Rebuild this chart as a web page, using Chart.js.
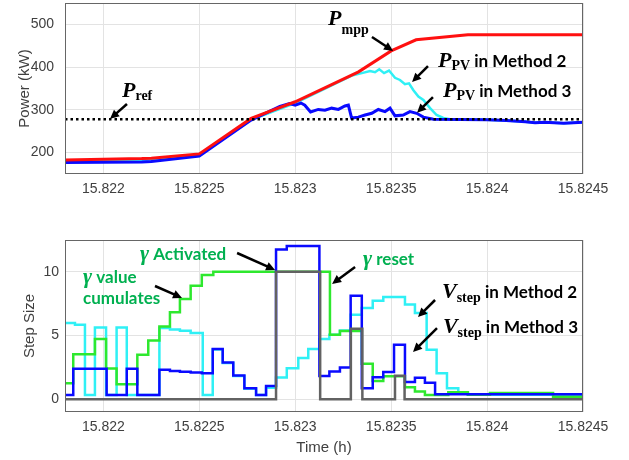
<!DOCTYPE html>
<html>
<head>
<meta charset="utf-8">
<script src="https://cdn.jsdelivr.net/npm/chart.js@4.4.0/dist/chart.umd.min.js"></script>
<style>
  body { margin: 0; background: #fff; }
  .box { position: absolute; left: 0; width: 629px; height: 230px; }
</style>
</head>
<body>
<div class="box" style="top:0"><canvas id="powerChart"></canvas></div>
<div class="box" style="top:230px"><canvas id="stepChart"></canvas></div>
<script>
// time axis (h)
const X_MIN = 15.8218, X_MAX = 15.8245;
const timeTicks = [15.822, 15.8225, 15.823, 15.8235, 15.824, 15.8245];
const timeTickLabels = ["15.822", "15.8225", "15.823", "15.8235", "15.824", "15.8245"];
const powerTicks = [200, 300, 400, 500];
const stepTicks = [0, 5, 10];

// top plot: power (kW)
const pmppT = [15.8218, 15.8222, 15.82225, 15.8225, 15.82277, 15.823, 15.82333, 15.8235, 15.82363, 15.8239, 15.8245];
const pmppV = [183, 186, 187, 197, 280, 319, 389, 438, 464, 476, 476];

const pv2T = [15.8218, 15.8222, 15.82225, 15.8225, 15.82277, 15.823, 15.8233, 15.823347, 15.82339, 15.823416, 15.823438,
  15.823463, 15.823489, 15.82352, 15.823546, 15.823572, 15.823593, 15.823616, 15.823642, 15.823668, 15.823703,
  15.823737, 15.823772, 15.823807, 15.824, 15.8241, 15.8242, 15.82425, 15.8243, 15.8244, 15.8245];
const pv2V = [180, 183, 184, 194, 277, 316, 381, 386, 391, 388, 395,
  386, 392, 375, 370, 360, 362, 346, 331, 323, 304,
  288, 281, 278, 277, 275, 272, 270, 271, 269, 271];

const pv3T = [15.8218, 15.8222, 15.82225, 15.8225, 15.82277, 15.82292, 15.82297, 15.823, 15.82303, 15.82305, 15.82308,
  15.82312, 15.823155, 15.82319, 15.823225, 15.823259, 15.823277, 15.823294, 15.823329, 15.823364, 15.823399,
  15.823433, 15.823468, 15.823494, 15.82352, 15.823563, 15.823598, 15.823633, 15.823668, 15.82372, 15.824,
  15.8241, 15.8242, 15.82425, 15.8243, 15.8244, 15.8245];
const pv3V = [177, 178, 179, 192, 276, 308, 315, 311, 316, 311, 295,
  301, 299, 304, 301, 309, 311, 281, 283, 288, 292,
  301, 296, 304, 286, 288, 296, 292, 283, 278, 277,
  275, 272, 270, 271, 269, 271];

const prefT = [15.8218, 15.8245];
const prefV = [278, 278];

// bottom plot: step sizes, each point = start of a step
const gammaT = [15.8218, 15.821843, 15.821956, 15.822014, 15.822069, 15.822177, 15.822234, 15.822292, 15.822347, 15.822399,
  15.822455, 15.822513, 15.822573, 15.823181, 15.823233, 15.823347, 15.823404, 15.823459, 15.823572, 15.823624,
  15.823676, 15.823798, 15.8239, 15.824015, 15.824344, 15.8245];
const gammaV = [1.26, 3.54, 4.72, 2.41, 1.18, 3.49, 4.62, 5.72, 6.82, 7.87,
  8.9, 9.75, 10, 5.06, 5.36, 2.78, 1.44, 1.8, 0.95, 0.6,
  0.34, 0.55, 0.35, 0.5, 0.2, 0.2];

const vstep2T = [15.8218, 15.821852, 15.821904, 15.821956, 15.822014, 15.822069, 15.822122, 15.822292, 15.822347, 15.822399,
  15.822455, 15.822518, 15.82257, 15.822622, 15.822677, 15.822735, 15.822796, 15.822848, 15.8229, 15.822956,
  15.823016, 15.823068, 15.823126, 15.823178, 15.823233, 15.823289, 15.823347, 15.823404, 15.823459, 15.823572,
  15.823624, 15.823685, 15.823737, 15.823791, 15.82385, 15.8239, 15.8245];
const vstep2V = [5.98, 5.85, 0.34, 5.64, 0.34, 5.64, 0.34, 5.6, 5.48, 5.38,
  5.2, 0.34, 3.9, 2.85, 1.83, 0.83, 0.34, 0.9, 1.7, 2.44,
  3.23, 3.94, 4.72, 5.06, 5.4, 6.64, 7.16, 7.74, 8.03, 7.43,
  6.77, 3.88, 2.05, 0.87, 0.5, 0.35, 0.35];

const vstep3T = [15.8218, 15.821843, 15.822017, 15.822122, 15.822177, 15.822292, 15.822347, 15.822399, 15.822455, 15.822513,
  15.82257, 15.822622, 15.822677, 15.822735, 15.822796, 15.822848, 15.8229, 15.822956, 15.823126, 15.823178,
  15.823233, 15.823289, 15.823347, 15.823404, 15.823459, 15.823515, 15.823572, 15.823624, 15.823676, 15.823729, 15.8245];
const vstep3V = [0.34, 2.39, 0.34, 2.39, 0.34, 2.31, 2.22, 2.16, 2.1, 2.05,
  3.94, 2.88, 1.86, 0.86, 0.34, 1.05, 11.76, 12.02, 1.83, 2.17,
  2.5, 8.13, 0.87, 1.73, 2.13, 4.28, 1.35, 1.68, 1.3, 0.39, 0.35];

const gateT = [15.8218, 15.8229, 15.82313, 15.82329, 15.82335, 15.82352, 15.82357, 15.8245];
const gateV = [0, 10, 0, 5.54, 0, 1.84, 0, 0];

const SANS = '"Liberation Sans", Arial, sans-serif';
const TICK_COLOR = '#404040';
const GRID_COLOR = '#e3e3e3';
const GREEN_TXT = '#00b050';

const pts = (ts, vs) => ts.map((t, i) => ({ x: t, y: vs[i] }));

function drawArrow(ctx, x1, y1, x2, y2) {
  const ang = Math.atan2(y2 - y1, x2 - x1);
  const head = 10;
  ctx.strokeStyle = '#000';
  ctx.fillStyle = '#000';
  ctx.lineWidth = 2.5;
  ctx.beginPath();
  ctx.moveTo(x1, y1);
  ctx.lineTo(x2 - Math.cos(ang) * head * 0.8, y2 - Math.sin(ang) * head * 0.8);
  ctx.stroke();
  ctx.beginPath();
  ctx.moveTo(x2, y2);
  ctx.lineTo(x2 - head * Math.cos(ang - 0.45), y2 - head * Math.sin(ang - 0.45));
  ctx.lineTo(x2 - head * Math.cos(ang + 0.45), y2 - head * Math.sin(ang + 0.45));
  ctx.closePath();
  ctx.fill();
}

// text notes, arrows and the axes box
const notesPlugin = {
  id: 'notes',
  afterDatasetsDraw(chart, args, opts) {
    const { ctx, chartArea, scales: { x, y } } = chart;
    ctx.save();
    ctx.strokeStyle = '#666';
    ctx.lineWidth = 1;
    ctx.strokeRect(chartArea.left + 0.5, chartArea.top + 0.5, chartArea.width - 1, chartArea.height - 1);
    (opts.arrows || []).forEach(a => {
      drawArrow(ctx, x.getPixelForValue(a[0]), y.getPixelForValue(a[1]), x.getPixelForValue(a[2]), y.getPixelForValue(a[3]));
    });
    ctx.textBaseline = 'alphabetic';
    ctx.textAlign = 'left';
    (opts.labels || []).forEach(l => {
      let px = x.getPixelForValue(l.x);
      const py = y.getPixelForValue(l.y);
      l.parts.forEach(p => {
        ctx.font = p.font;
        ctx.fillStyle = p.color || '#000';
        ctx.fillText(p.text, px, py + (p.dy || 0));
        px += ctx.measureText(p.text).width;
      });
    });
    ctx.restore();
  }
};

const P_FONT = 'bold italic 22px "Liberation Serif"';
const SUB_FONT = 'bold 14px "Liberation Serif"';
const TXT_FONT = 'bold 17px Lato';

function xAxis(withTitle) {
  return {
    type: 'linear',
    min: X_MIN,
    max: X_MAX,
    afterBuildTicks: s => { s.ticks = timeTicks.map(v => ({ value: v })); },
    afterFit: s => { s.height = withTitle ? 48 : 56; s.paddingLeft = 0; s.paddingRight = 0; },
    ticks: {
      autoSkip: false, maxRotation: 0, padding: 7, color: TICK_COLOR,
      font: { family: SANS, size: 14 },
      callback: (v, i) => timeTickLabels[i]
    },
    grid: { color: GRID_COLOR, drawTicks: false },
    border: { display: false },
    title: {
      display: withTitle, text: 'Time (h)', color: TICK_COLOR,
      font: { family: SANS, size: 15 }, padding: { top: 0, bottom: 3 }
    }
  };
}

function yAxis(min, max, ticks, title, titlePad, tickPad) {
  return {
    min: min,
    max: max,
    afterBuildTicks: s => { s.ticks = ticks.map(v => ({ value: v })); },
    afterFit: s => { s.width = 65; s.paddingTop = 0; s.paddingBottom = 0; },
    ticks: { padding: tickPad, color: TICK_COLOR, font: { family: SANS, size: 14 } },
    grid: { color: GRID_COLOR, drawTicks: false },
    border: { display: false },
    title: {
      display: true, text: title, color: TICK_COLOR,
      font: { family: SANS, size: 15 }, padding: { top: titlePad, bottom: 0 }
    }
  };
}

function line(data, color, width, extra) {
  return Object.assign({
    data: data, borderColor: color, borderWidth: width,
    pointRadius: 0, fill: false, tension: 0
  }, extra || {});
}

new Chart(document.getElementById('powerChart'), {
  type: 'line',
  data: {
    datasets: [
      line(pts(prefT, prefV), '#000', 2.5, { borderDash: [2.5, 3] }),
      line(pts(pmppT, pmppV), '#ff1010', 3),
      line(pts(pv3T, pv3V), '#0a0aff', 3),
      line(pts(pv2T, pv2V), '#2ff0f5', 2.5)
    ]
  },
  options: {
    animation: false,
    responsive: true,
    maintainAspectRatio: false,
    layout: { padding: { left: 0, right: 46, top: 3, bottom: 0 } },
    scales: { x: xAxis(false), y: yAxis(150, 550, powerTicks, 'Power (kW)', 16, 11) },
    plugins: {
      legend: { display: false },
      tooltip: { enabled: false },
      notes: {
        arrows: [
          [15.822123, 313.7, 15.822035, 279],
          [15.8234, 470.5, 15.82351, 438],
          [15.823692, 402.6, 15.823609, 365],
          [15.823718, 330, 15.823635, 293]
        ],
        labels: [
          { x: 15.822097, y: 330, parts: [{ text: 'P', font: P_FONT }, { text: 'ref', font: SUB_FONT, dy: 3 }] },
          { x: 15.823171, y: 498.5, parts: [{ text: 'P', font: P_FONT }, { text: 'mpp', font: SUB_FONT, dy: 9 }] },
          { x: 15.823744, y: 400.3, parts: [{ text: 'P', font: P_FONT }, { text: 'PV', font: SUB_FONT, dy: 3 }, { text: ' in Method 2', font: TXT_FONT }] },
          { x: 15.82377, y: 330, parts: [{ text: 'P', font: P_FONT }, { text: 'PV', font: SUB_FONT, dy: 3 }, { text: ' in Method 3', font: TXT_FONT }] }
        ]
      }
    }
  },
  plugins: [notesPlugin]
});

const stepped = { stepped: 'before' };

new Chart(document.getElementById('stepChart'), {
  type: 'line',
  data: {
    datasets: [
      line(pts(gateT, gateV), '#626262', 2.5, stepped),
      line(pts(vstep3T, vstep3V), '#0a0aff', 2.5, stepped),
      line(pts(gammaT, gammaV), '#2ee82e', 2.5, stepped),
      line(pts(vstep2T, vstep2V), '#2ff0f5', 2.5, stepped)
    ]
  },
  options: {
    animation: false,
    responsive: true,
    maintainAspectRatio: false,
    layout: { padding: { left: 0, right: 46, top: 10, bottom: 0 } },
    scales: { x: xAxis(true), y: yAxis(-1, 12.5, stepTicks, 'Step Size', 21, 6) },
    plugins: {
      legend: { display: false },
      tooltip: { enabled: false },
      notes: {
        arrows: [
          [15.822697, 11.48, 15.822895, 10.15],
          [15.822269, 8.89, 15.82241, 7.95],
          [15.823312, 10.38, 15.823192, 9.05],
          [15.823729, 7.79, 15.82364, 6.46],
          [15.823739, 5.59, 15.823614, 3.71]
        ],
        labels: [
          { x: 15.822191, y: 10.93, parts: [{ text: 'γ', font: P_FONT, color: GREEN_TXT }, { text: ' Activated', font: TXT_FONT, color: GREEN_TXT }] },
          { x: 15.821894, y: 9.125, parts: [{ text: 'γ', font: P_FONT, color: GREEN_TXT }, { text: ' value', font: TXT_FONT, color: GREEN_TXT }] },
          { x: 15.821894, y: 7.476, parts: [{ text: 'cumulates', font: TXT_FONT, color: GREEN_TXT }] },
          { x: 15.823353, y: 10.54, parts: [{ text: 'γ', font: P_FONT, color: GREEN_TXT }, { text: ' reset', font: TXT_FONT, color: GREEN_TXT }] },
          { x: 15.823765, y: 7.95, parts: [{ text: 'V', font: P_FONT }, { text: 'step', font: SUB_FONT, dy: 4 }, { text: ' in Method 2', font: TXT_FONT }] },
          { x: 15.82377, y: 5.2, parts: [{ text: 'V', font: P_FONT }, { text: 'step', font: SUB_FONT, dy: 4 }, { text: ' in Method 3', font: TXT_FONT }] }
        ]
      }
    }
  },
  plugins: [notesPlugin]
});
</script>
</body>
</html>
